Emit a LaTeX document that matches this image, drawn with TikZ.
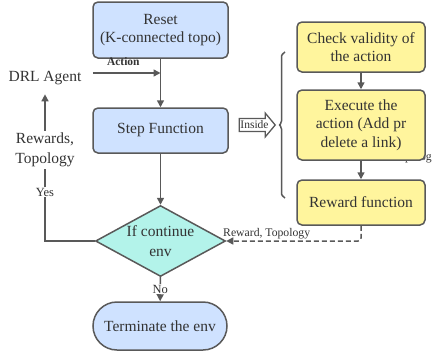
\documentclass[tikz,border=0pt]{standalone}
\usepackage{fontspec}
\setmainfont{Liberation Serif}
\usetikzlibrary{arrows.meta, shapes.geometric, shapes.arrows, decorations.pathreplacing}

\definecolor{boxblue}{HTML}{CFE2FF}
\definecolor{boxyellow}{HTML}{FFF59D}
\definecolor{boxteal}{HTML}{B3F3EA}
\definecolor{lineg}{HTML}{595959}
\definecolor{txtg}{HTML}{333333}

\tikzset{
  base/.style={draw=lineg, line width=1.5pt, text=txtg, align=center,
    font=\fontsize{15.5}{18.5}\selectfont},
  bluebox/.style={base, fill=boxblue, rounded corners=5pt, minimum width=135pt},
  yellowbox/.style={base, fill=boxyellow, rounded corners=5pt, minimum width=128pt},
  decision/.style={base, diamond, fill=boxteal, inner sep=0pt, aspect=1.83,
    minimum width=130pt, minimum height=71pt},
  conn/.style={draw=lineg, line width=1.5pt, -{Triangle[length=7pt,width=7pt]}},
  small/.style={text=txtg, font=\fontsize{11.7}{13}\selectfont, inner sep=1pt}
}

\begin{document}
\begin{tikzpicture}[x=1pt, y=-1pt]
  \useasboundingbox (0,0) rectangle (434,351);

  % main column
  \node[bluebox, minimum height=56pt] (reset) at (160.5,30) {Reset\\(K-connected topo)};
  \node[bluebox, minimum height=45pt] (step) at (160.5,130.5) {Step Function};
  \node[decision, label={[text=txtg, align=center, font=\fontsize{15.5}{19.5}\selectfont]center:If continue\\env}] (cont) at (160.5,241) {};
  \node[bluebox, rounded corners=24pt, minimum width=134pt, minimum height=48pt] (term) at (160,326) {Terminate the env};
  \node[text=txtg, font=\fontsize{15.5}{18.5}\selectfont] (agent) at (45,78) {DRL Agent};

  % stray label behind the execute box
  \node[small, anchor=base east] (stray) at (433,160) {Topolog};

  % inside the step function
  \node[yellowbox, minimum height=50pt] (check) at (361,47) {Check validity of\\the action};
  \node[yellowbox, minimum height=70pt] (exec) at (361,125) {Execute the\\action (Add pr\\delete a link)};
  \node[yellowbox, minimum height=45pt] (rewardfn) at (361,202.5) {Reward function};

  \node[single arrow, draw=lineg, line width=1.3pt, fill=white, text=txtg,
    font=\fontsize{11.5}{12}\selectfont, inner sep=0pt, inner xsep=0.5pt,
    single arrow head extend=4pt, single arrow tip angle=100,
    minimum height=36pt, minimum width=24pt] (inside) at (254.5,125) {Inside};
  \draw[lineg, line width=1.5pt, rounded corners=3pt,
    decorate, decoration={brace, amplitude=7pt}] (285,198) -- (285,52);

  % connectors
  \draw[conn] (reset) -- (step);
  \draw[conn] ([yshift=5pt]agent.east) ++(8,0) -- ([yshift=5pt]agent.east -| reset.south)
    node[pos=0.45, above=3pt, text=txtg, font=\bfseries\fontsize{11.5}{13}\selectfont] {Action};
  \draw[conn] (step) -- (cont);
  \draw[conn] (cont) -- (term)
    node[midway, fill=white, small, font=\fontsize{12.5}{14}\selectfont] {No};
  \draw[conn] (cont.west) -| ([yshift=-6pt]agent.south)
    node[pos=0.81, fill=white, text=txtg, align=center, inner sep=2pt,
      font=\fontsize{15.5}{20}\selectfont] {Rewards,\\Topology}
    node[pos=0.666, fill=white, small, font=\fontsize{12.5}{14}\selectfont] {Yes};
  \draw[conn] (check) -- (exec);
  \draw[conn] (exec) -- (rewardfn);
  \draw[conn, dash pattern=on 5pt off 3pt, rounded corners=3pt] (rewardfn.south) |- (cont.east)
    node[pos=0.85, above, small] {Reward, Topology};
\end{tikzpicture}
\end{document}
